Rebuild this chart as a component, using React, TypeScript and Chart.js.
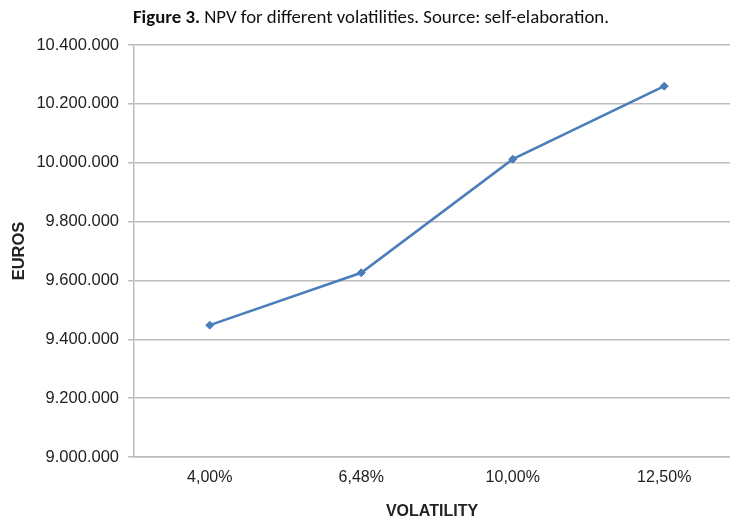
import React, { useEffect, useRef } from "react";
import { Chart, registerables } from "chart.js";

Chart.register(...registerables);

const categories = ["4,00%", "6,48%", "10,00%", "12,50%"];
const npvValues = [9448000, 9626000, 10012000, 10260000];
const yMin = 9000000;
const yMax = 10400000;
const yStep = 200000;
// x range in category-index units (category centres at 0..3)
const xMin = -0.5;
const xMax = 3.434;

function fmt(v: number): string {
  return Math.round(v).toString().replace(/\B(?=(\d{3})+(?!\d))/g, ".");
}

export default function App() {
  const ref = useRef<HTMLCanvasElement | null>(null);
  useEffect(() => {
    if (!ref.current) return;
    const font = "'Liberation Sans', Arial, sans-serif";
    const chart = new Chart(ref.current, {
      type: "line",
      data: {
        datasets: [
          {
            data: npvValues.map((v, i) => ({ x: i, y: v })),
            borderColor: "#4a7ebb",
            backgroundColor: "#4a7ebb",
            borderWidth: 2.5,
            pointStyle: "rectRot",
            pointRadius: 4,
            pointBorderWidth: 1,
            tension: 0,
          },
        ],
      },
      options: {
        animation: false,
        responsive: false,
        layout: { autoPadding: false, padding: { top: 45, right: 0, left: 0, bottom: 0 } },
        plugins: { legend: { display: false }, tooltip: { enabled: false }, title: { display: false } },
        scales: {
          x: {
            type: "linear",
            min: xMin,
            max: xMax,
            afterBuildTicks: (s: any) => {
              s.ticks = categories.map((_, i) => ({ value: i }));
            },
            grid: { display: false, drawTicks: false },
            border: { display: true, color: "#bdbdbd", width: 1.5 },
            ticks: {
              color: "#222",
              font: { family: font, size: 16 },
              padding: 11,
              maxRotation: 0,
              autoSkip: false,
              callback: (v: any) => categories[Math.round(Number(v))] ?? "",
            },
            title: { display: true, text: "VOLATILITY", color: "#222", font: { family: font, size: 16, weight: "bold" }, padding: { top: 15, bottom: -1 } },
            afterFit: (s: any) => { s.height = 63; s.paddingRight = 0; s.paddingLeft = 0; },
          },
          y: {
            min: yMin,
            max: yMax,
            ticks: { stepSize: yStep, color: "#222", font: { family: font, size: 16.5 }, padding: 9, callback: (v: any) => fmt(Number(v)) },
            grid: { color: "#bdbdbd", lineWidth: 1.5, tickLength: 6, drawTicks: true },
            border: { display: true, color: "#bdbdbd", width: 1.5 },
            title: { display: true, text: "EUROS", color: "#222", font: { family: font, size: 16.5, weight: "bold" }, padding: { top: 10, bottom: 0 } },
            afterFit: (s: any) => { s.width = 134; },
          },
        },
      },
    });
    return () => chart.destroy();
  }, []);
  return (
    <div style={{ position: "fixed", left: 0, top: 0, width: 730, height: 520, overflow: "hidden", background: "#fff" }}>
      <canvas ref={ref} width={730} height={520} style={{ position: "absolute", left: 0, top: 0, width: 730, height: 520 }} />
      <div style={{ position: "absolute", left: 133, top: 5, fontFamily: "Carlito, Lato, 'Open Sans', sans-serif", fontSize: 18.8, color: "#111", whiteSpace: "nowrap" }}>
        <b>Figure 3.</b> NPV for different volatilities. Source: self-elaboration.
      </div>
    </div>
  );
}
